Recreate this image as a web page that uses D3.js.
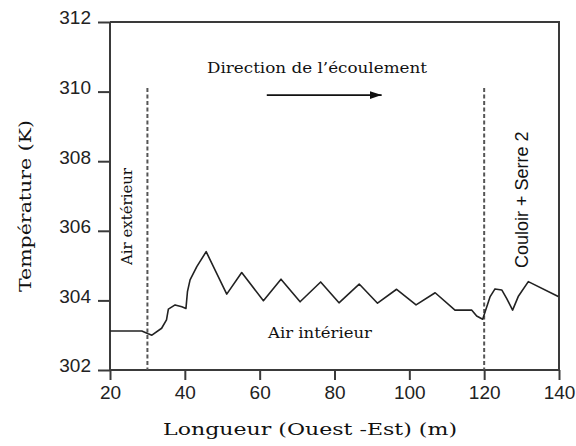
<!DOCTYPE html>
<html>
<head>
<meta charset="utf-8">
<script src="https://cdn.jsdelivr.net/npm/d3@7/dist/d3.min.js"></script>
<style>
  html, body { margin: 0; padding: 0; background: #fff; }
  svg { display: block; }
</style>
</head>
<body>
<svg id="chart" width="576" height="446"></svg>
<script>
// ---- data ----
const longueur = [20, 28.5, 30.2, 31.2, 33.8, 35.1, 35.6, 37.4, 39.2, 40.3, 40.7, 41.4, 43.2, 45.7,
  51.2, 55.2, 61.0, 65.7, 70.8, 76.3, 81.2, 86.6, 91.5, 96.6, 101.8, 106.9,
  112.2, 116.7, 118.0, 119.6, 121.6, 122.9, 124.7, 126.0, 127.6, 129.1, 131.8, 139.8];
const temperature = [303.12, 303.12, 303.04, 303.0, 303.2, 303.44, 303.75, 303.87, 303.82, 303.77, 304.25, 304.59, 304.97, 305.40,
  304.18, 304.80, 303.99, 304.61, 303.96, 304.53, 303.93, 304.47, 303.92, 304.32, 303.87, 304.22,
  303.72, 303.72, 303.55, 303.46, 304.11, 304.33, 304.30, 304.06, 303.72, 304.11, 304.54, 304.11];
const xTicks = [20, 40, 60, 80, 100, 120, 140];
const yTicks = [302, 304, 306, 308, 310, 312];
const dividers = [30, 120];          // vertical dashed lines (m)
const dividerTop = 310.1;           // top of dashed lines (K)
const arrowFrom = [61.9, 309.9];    // flow direction arrow (m, K)
const arrowTo = [92.6, 309.9];

const xTitle = "Longueur (Ouest -Est)  (m)";
const yTitle = "Température (K)";
const flowLabel = "Direction de l\u2019écoulement";
const insideLabel = "Air intérieur";
const outsideLabel = "Air extérieur";
const couloirLabel = "Couloir + Serre 2";

// ---- layout ----
const svg = d3.select("#chart");
const x = d3.scaleLinear().domain([20, 140]).range([110, 559]);
const y = d3.scaleLinear().domain([302, 312]).range([370, 22]);
const axisColor = "#3a3a3a";
const serif = "'DejaVu Serif', 'Liberation Serif', serif";
const sans = "'Liberation Sans', Arial, sans-serif";

// y axis
const gy = svg.append("g").attr("transform", `translate(${x(20)},0)`)
  .call(d3.axisLeft(y).tickValues(yTicks).tickSize(12).tickPadding(7).tickFormat(d3.format("d")));
gy.select(".domain").remove();
gy.selectAll(".tick line").attr("stroke", axisColor).attr("stroke-width", 2);
gy.selectAll(".tick text").attr("font-family", sans).attr("font-size", 19).attr("fill", "#222")
  .attr("dy", "0.1em");

// x axis
const gx = svg.append("g").attr("transform", `translate(0,${y(302)})`)
  .call(d3.axisBottom(x).tickValues(xTicks).tickSize(10).tickPadding(6).tickFormat(d3.format("d")));
gx.select(".domain").remove();
gx.selectAll(".tick line").attr("stroke", axisColor).attr("stroke-width", 2);
gx.selectAll(".tick text").attr("font-family", sans).attr("font-size", 19).attr("fill", "#222");

// frame (left, bottom, top, right)
const frame = d3.path();
frame.moveTo(x(20), y(312)); frame.lineTo(x(20), y(302));
frame.lineTo(x(140), y(302));
frame.moveTo(x(20), y(312)); frame.lineTo(x(140), y(312)); frame.lineTo(x(140), y(302));
svg.append("path").attr("d", frame.toString()).attr("fill", "none")
  .attr("stroke", axisColor).attr("stroke-width", 2);

// dashed dividers
svg.selectAll("line.div").data(dividers).join("line").attr("class", "div")
  .attr("x1", d => x(d)).attr("x2", d => x(d))
  .attr("y1", y(dividerTop)).attr("y2", y(302))
  .attr("stroke", "#555").attr("stroke-width", 2).attr("stroke-dasharray", "4,2.5");

// temperature curve
const line = d3.line().x((d, i) => x(longueur[i])).y(d => y(d));
svg.append("path").datum(temperature).attr("d", line)
  .attr("fill", "none").attr("stroke", "#222").attr("stroke-width", 1.6)
  .attr("stroke-linejoin", "round");

// arrow
svg.append("defs").append("marker").attr("id", "ah")
  .attr("viewBox", "0 0 12 8").attr("refX", 12).attr("refY", 4)
  .attr("markerWidth", 12).attr("markerHeight", 8).attr("markerUnits", "userSpaceOnUse")
  .attr("orient", "auto")
  .append("path").attr("d", "M0,0L12,4L0,8Z").attr("fill", "#111");
svg.append("line")
  .attr("x1", x(arrowFrom[0])).attr("y1", y(arrowFrom[1]))
  .attr("x2", x(arrowTo[0])).attr("y2", y(arrowTo[1]))
  .attr("stroke", "#111").attr("stroke-width", 1.8).attr("marker-end", "url(#ah)");

// texts
svg.append("text").text(flowLabel).attr("x", 207).attr("y", 73)
  .attr("font-family", serif).attr("font-size", 15).attr("fill", "#111")
  .attr("textLength", 220).attr("lengthAdjust", "spacingAndGlyphs");
svg.append("text").text(insideLabel).attr("x", 268).attr("y", 338)
  .attr("font-family", serif).attr("font-size", 15).attr("fill", "#111")
  .attr("textLength", 104).attr("lengthAdjust", "spacingAndGlyphs");
svg.append("text").text(outsideLabel).attr("transform", "translate(132,265) rotate(-90)")
  .attr("font-family", serif).attr("font-size", 15).attr("fill", "#111")
  .attr("textLength", 97).attr("lengthAdjust", "spacingAndGlyphs");
svg.append("text").text(couloirLabel).attr("transform", "translate(528,268) rotate(-90)")
  .attr("font-family", sans).attr("font-size", 18).attr("fill", "#111");
svg.append("text").text(xTitle).attr("x", 163).attr("y", 435)
  .attr("font-family", serif).attr("font-size", 17).attr("fill", "#111")
  .attr("textLength", 294).attr("lengthAdjust", "spacingAndGlyphs");
svg.append("text").text(yTitle).attr("transform", "translate(31,292) rotate(-90)")
  .attr("font-family", serif).attr("font-size", 17).attr("fill", "#111")
  .attr("textLength", 172).attr("lengthAdjust", "spacingAndGlyphs");
</script>
</body>
</html>
